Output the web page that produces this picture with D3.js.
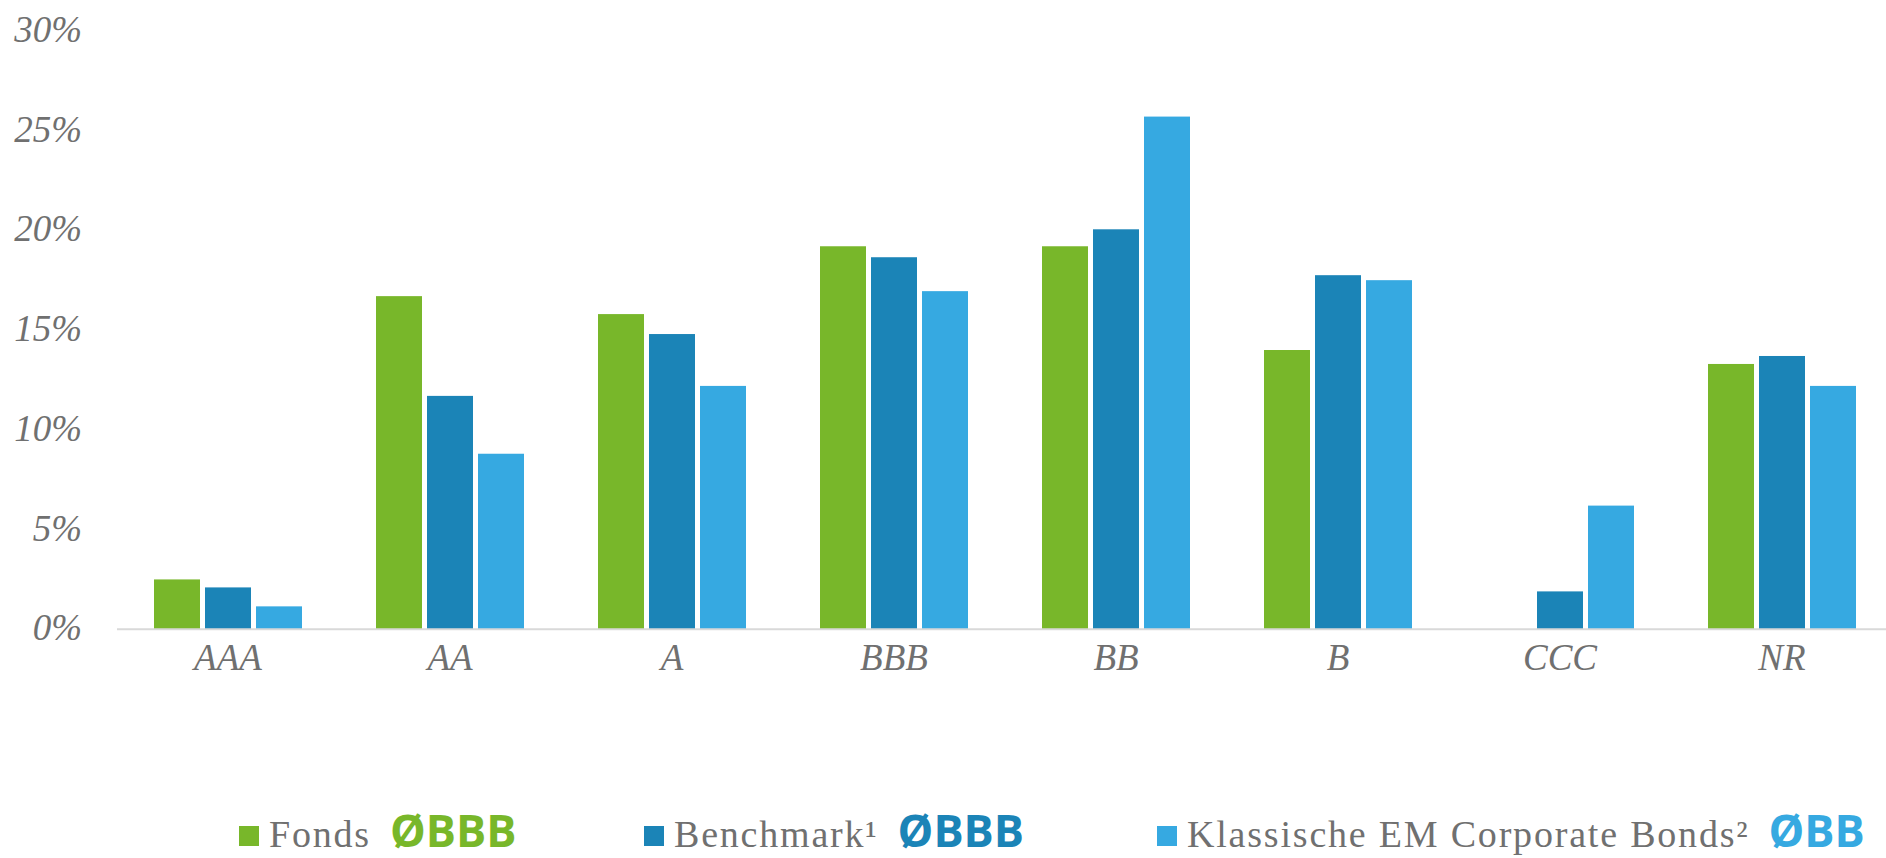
<!DOCTYPE html>
<html>
<head>
<meta charset="utf-8">
<script src="https://cdn.jsdelivr.net/npm/d3@7"></script>
<style>
  body { margin: 0; background: #fff; }
  svg { display: block; }
</style>
</head>
<body>
<div id="chart"></div>
<script>
// Rating-Verteilung: Fonds vs. Benchmark vs. klassische EM Corporate Bonds

const categories = ["AAA", "AA", "A", "BBB", "BB", "B", "CCC", "NR"];
const fonds      = [2.5, 16.7, 15.8, 19.2, 19.2, 14.0, 0, 13.3];
const benchmark  = [2.1, 11.7, 14.8, 18.65, 20.05, 17.75, 1.9, 13.7];
const klassisch  = [1.15, 8.8, 12.2, 16.95, 25.7, 17.5, 6.2, 12.2];
const yTicks = [0, 5, 10, 15, 20, 25, 30];

const seriesKeys = ["fonds", "benchmark", "klassisch"];
const seriesNames = ["Fonds", "Benchmark\u00b9", "Klassische EM Corporate Bonds\u00b2"];
const seriesRatings = ["\u00d8BBB", "\u00d8BBB", "\u00d8BB"];
const colors = ["#78b72a", "#1b84b7", "#36a9e1"];

const width = 1886, height = 858;
const textGrey = "#707070";

const svg = d3.select("#chart").append("svg")
  .attr("width", width)
  .attr("height", height);

const rows = categories.map((c, i) => ({
  cat: c, fonds: fonds[i], benchmark: benchmark[i], klassisch: klassisch[i]
}));

const x0 = d3.scaleBand()
  .domain(categories)
  .range([117, 1893])
  .paddingInner(1 / 3)
  .paddingOuter(1 / 6);

const x1 = d3.scaleBand()
  .domain(seriesKeys)
  .range([0, x0.bandwidth()])
  .paddingInner(5 / 51);

const y = d3.scaleLinear()
  .domain([0, 30])
  .range([629.3, 30.8]);

const color = d3.scaleOrdinal().domain(seriesKeys).range(colors);

// y labels (no axis line)
svg.append("g")
  .selectAll("text")
  .data(yTicks)
  .join("text")
  .attr("x", 82)
  .attr("y", d => y(d) + 11)
  .attr("text-anchor", "end")
  .attr("font-family", "Liberation Serif, serif")
  .attr("font-style", "italic")
  .attr("font-size", 37)
  .attr("fill", textGrey)
  .text(d => d + "%");

// bars
svg.append("g")
  .selectAll("g")
  .data(rows)
  .join("g")
  .attr("transform", d => `translate(${x0(d.cat)},0)`)
  .selectAll("rect")
  .data(d => seriesKeys.map(k => ({ key: k, value: d[k] })))
  .join("rect")
  .attr("x", d => x1(d.key))
  .attr("width", x1.bandwidth())
  .attr("y", d => y(d.value))
  .attr("height", d => y(0) - y(d.value))
  .attr("fill", d => color(d.key));

// baseline
svg.append("line")
  .attr("x1", 117).attr("x2", width)
  .attr("y1", y(0)).attr("y2", y(0))
  .attr("stroke", "#d9d9d9")
  .attr("stroke-width", 2);

// x labels
svg.append("g")
  .selectAll("text")
  .data(categories)
  .join("text")
  .attr("x", d => x0(d) + x0.bandwidth() / 2)
  .attr("y", 670)
  .attr("text-anchor", "middle")
  .attr("font-family", "Liberation Serif, serif")
  .attr("font-style", "italic")
  .attr("font-size", 37)
  .attr("fill", textGrey)
  .text(d => d);

// legend
const legendX = [239, 644, 1157];
const legendBase = 847;

seriesKeys.forEach((k, i) => {
  const g = svg.append("g").attr("transform", `translate(${legendX[i]},0)`);
  g.append("rect")
    .attr("x", 0).attr("y", 826)
    .attr("width", 20).attr("height", 20)
    .attr("fill", colors[i]);
  const label = g.append("text")
    .attr("x", 30)
    .attr("y", legendBase)
    .attr("font-family", "Liberation Serif, serif")
    .attr("font-size", 38)
    .attr("letter-spacing", 1.8)
    .attr("fill", textGrey)
    .text(seriesNames[i]);
  const w = label.node().getComputedTextLength();
  g.append("text")
    .attr("x", 30 + w + 19)
    .attr("y", legendBase)
    .attr("font-family", "Open Sans, sans-serif")
    .attr("font-weight", "bold")
    .attr("font-size", 45)
    .attr("fill", colors[i])
    .text(seriesRatings[i]);
});
</script>
</body>
</html>
